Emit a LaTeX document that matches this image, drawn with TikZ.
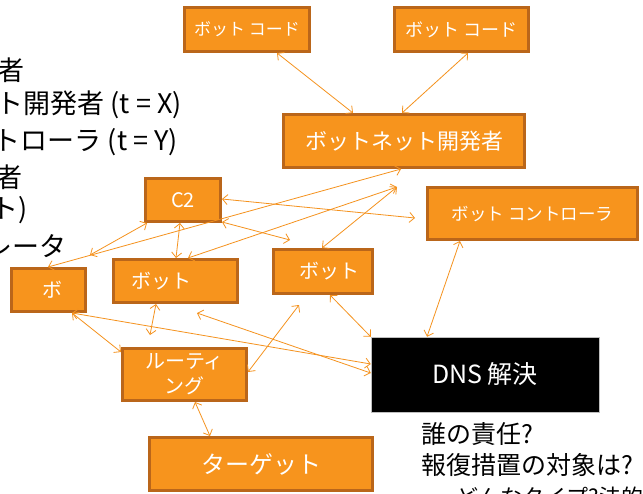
\documentclass[tikz,border=0pt]{standalone}
\usepackage{fontspec}
\setmainfont{Noto Sans CJK JP}
\usetikzlibrary{arrows.meta}
\definecolor{boxfill}{HTML}{F7941D}
\definecolor{boxedge}{HTML}{BA661A}
\definecolor{linecol}{HTML}{F5921E}
\begin{document}
\begin{tikzpicture}[x=1pt,y=-1pt,
  obox/.style={draw=boxedge, fill=boxfill, line width=3pt, text=white, inner sep=0pt},
  wlbl/.style={text=white, inner sep=0pt, font=\fontsize{20}{22}\selectfont},
  arr/.style={draw=linecol, line width=0.8pt, {Straight Barb[length=5pt,width=10pt]}-{Straight Barb[length=5pt,width=10pt]}},
  lefttxt/.style={anchor=east, inner sep=0pt, font=\fontsize{27}{30}\selectfont},
  qtxt/.style={anchor=west, inner sep=0pt, font=\fontsize{25}{27}\selectfont},
]
\path[use as bounding box, clip] (0,0) rectangle (643,493);
\fill[white] (0,0) rectangle (643,493);

% boxes
\node[obox, minimum width=125pt, minimum height=44pt, font=\fontsize{17}{20}\selectfont] (code1) at (247,29.5) {ボット コード};
\node[obox, minimum width=134pt, minimum height=44pt, font=\fontsize{18}{20}\selectfont] (code2) at (461.5,29.5) {ボット コード};
\node[obox, minimum width=241pt, minimum height=53pt, font=\fontsize{22}{24}\selectfont] (dev) at (404,141) {ボットネット開発者};
\node[obox, minimum width=210pt, minimum height=52pt, font=\fontsize{17.5}{20}\selectfont] (ctrl) at (532.5,213.5) {ボット コントローラ};
\node[draw=gray!50, line width=0.5pt, fill=black, text=white, minimum width=228pt, minimum height=75pt, inner sep=0pt, font=\fontsize{25}{28}\selectfont] (dns) at (485,374.5) {DNS 解決};
\node[obox, minimum width=75pt, minimum height=43pt, font=\fontsize{20}{22}\selectfont] (c2) at (183,200) {C2};
\node[obox, minimum width=74pt, minimum height=43pt] (bo) at (48.5,290) {};
\node[wlbl] (bolbl) at (52,290) {ボ};
\node[obox, minimum width=124pt, minimum height=43pt] (botm) at (175.5,281) {};
\node[wlbl] (botmlbl) at (161,281) {ボット};
\node[obox, minimum width=99pt, minimum height=44pt] (botr) at (323,271.5) {};
\node[wlbl] (botrlbl) at (329,271.5) {ボット};
\node[obox, minimum width=124pt, minimum height=52pt, align=center, font=\fontsize{20}{25}\selectfont] (rout) at (184.5,374.5) {ルーティ\\ング};
\node[obox, minimum width=223pt, minimum height=53pt, font=\fontsize{24}{26}\selectfont] (target) at (261,464) {ターゲット};

% left text
\node[lefttxt] (l1) at (25,70) {者};
\node[lefttxt] (l2) at (182,105) {ト開発者 (t = X)};
\node[lefttxt] (l3) at (178,142) {トローラ (t = Y)};
\node[lefttxt] (l4) at (23,177) {者};
\node[lefttxt] (l5) at (28,210) {ト)};
\node[lefttxt] (l6) at (67,246) {レータ};

% bottom text
\node[qtxt] (q1) at (421,434) {誰の責任?};
\node[qtxt] (q2) at (421,465) {報復措置の対象は?};
\node[qtxt, font=\fontsize{22}{24}\selectfont] (q3) at (440,497) {– どんなタイプ?法的};

% free ends
\coordinate (f1) at (90,255);
\coordinate (f2) at (397,187);
\coordinate (f3) at (415,218);
\coordinate (f4) at (290,240);
\coordinate (f5) at (150,335);
\coordinate (f6) at (197,313);
\coordinate (f7) at (299,305);

% connectors
\draw[arr] (277,0 |- code1.south) -- (353,0 |- dev.north);
\draw[arr] (468,0 |- code2.south) -- (402,0 |- dev.north);
\draw[arr] (48,0 |- bo.north) -- (401,0 |- dev.south);
\draw[arr] (f1) -- (147,0 |- c2.south);
\draw[arr] (180,0 |- c2.south) -- (176,0 |- botm.north);
\draw[arr] (188,0 |- botm.north) -- (f2);
\draw[arr] (322,0 |- botr.north) -- (f2);
\draw[arr] (c2.east |- 0,199) -- (f3);
\draw[arr] (c2.east |- 0,222) -- (f4);
\draw[arr] (460,0 |- ctrl.south) -- (427,0 |- dns.north);
\draw[arr] (330,0 |- botr.south) -- (dns.north west);
\draw[arr] (156,0 |- botm.south) -- (f5);
\draw[arr] (72,0 |- bo.south) -- (rout.west |- 0,352);
\draw[arr] (72,0 |- bo.south) -- (dns.west |- 0,364);
\draw[arr] (f6) -- (dns.west |- 0,373);
\draw[arr] (rout.east |- 0,372) -- (f7);
\draw[arr] (195,0 |- rout.south) -- (210,0 |- target.north);
\end{tikzpicture}
\end{document}
